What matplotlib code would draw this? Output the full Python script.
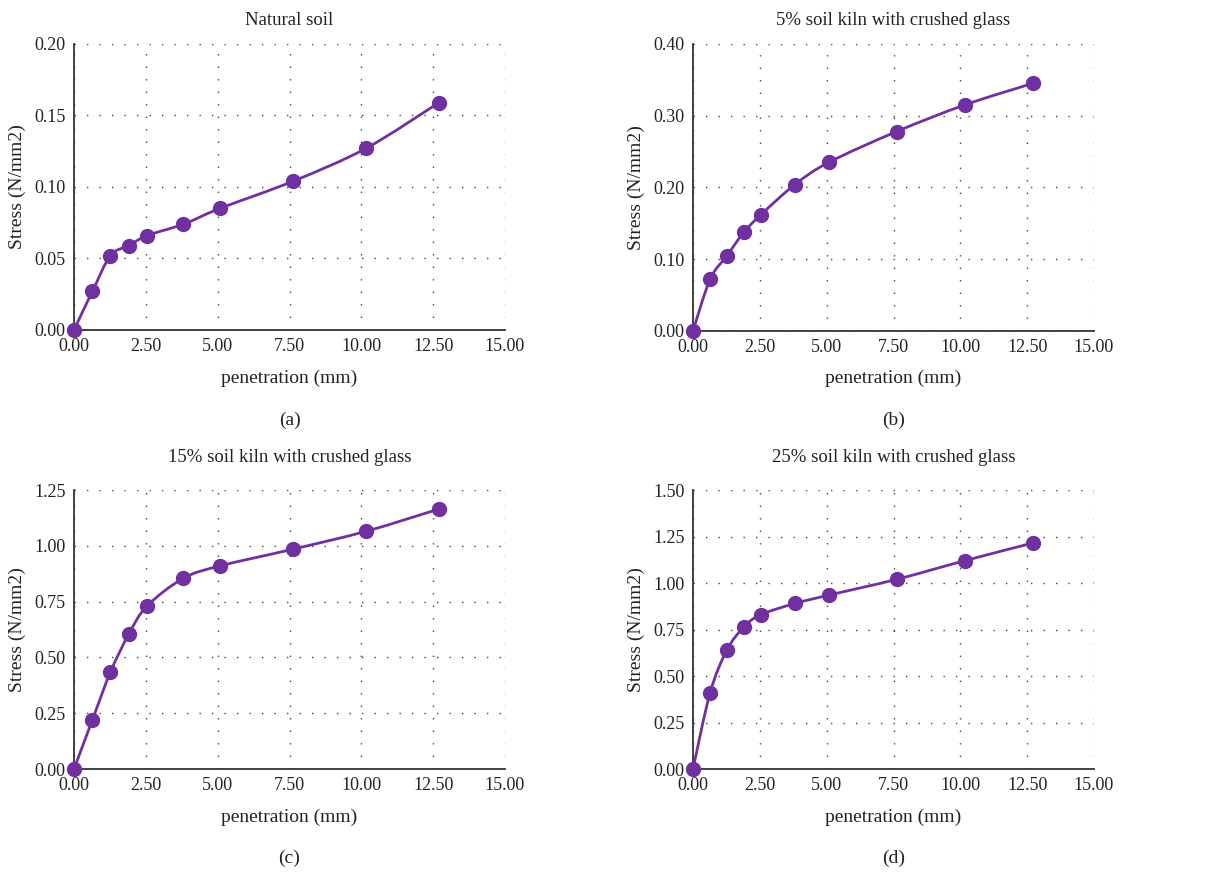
import matplotlib
matplotlib.use("Agg")
import matplotlib.pyplot as plt
from matplotlib.path import Path
from matplotlib.patches import PathPatch
from matplotlib.ticker import FormatStrFormatter

plt.rcParams['font.family'] = ['Liberation Serif', 'DejaVu Serif']

# penetration (mm)
penetration = [0, 0.64, 1.27, 1.91, 2.54, 3.81, 5.08, 7.62, 10.16, 12.70]

# stress (N/mm2)
natural_soil = [0, 0.027, 0.052, 0.059, 0.066, 0.074, 0.085, 0.104, 0.127, 0.159]
glass_5 = [0, 0.072, 0.105, 0.138, 0.162, 0.204, 0.235, 0.278, 0.315, 0.345]
glass_15 = [0, 0.22, 0.435, 0.605, 0.73, 0.855, 0.91, 0.985, 1.065, 1.165]
glass_25 = [0, 0.41, 0.64, 0.765, 0.83, 0.89, 0.935, 1.02, 1.12, 1.215]

titles = ["Natural soil", "5% soil kiln with crushed glass",
          "15% soil kiln with crushed glass", "25% soil kiln with crushed glass"]
letters = ["(a)", "(b)", "(c)", "(d)"]
series = [natural_soil, glass_5, glass_15, glass_25]
ymax = [0.20, 0.40, 1.25, 1.50]
ystep = [0.05, 0.10, 0.25, 0.25]

purple = "#7030a0"
axcolor = "#333333"
txt = "#222222"


def smooth_path(xs, ys):
    # Excel-like smoothed line: bezier segments through every point
    verts = [(xs[0], ys[0])]
    codes = [Path.MOVETO]
    n = len(xs)
    for i in range(n - 1):
        x0, y0 = xs[max(i - 1, 0)], ys[max(i - 1, 0)]
        x1, y1 = xs[i], ys[i]
        x2, y2 = xs[i + 1], ys[i + 1]
        x3, y3 = xs[min(i + 2, n - 1)], ys[min(i + 2, n - 1)]
        c1 = (x1 + (x2 - x0) / 6, y1 + (y2 - y0) / 6)
        c2 = (x2 - (x3 - x1) / 6, y2 - (y3 - y1) / 6)
        verts += [c1, c2, (x2, y2)]
        codes += [Path.CURVE4] * 3
    return Path(verts, codes)


fig = plt.figure(figsize=(12.05, 8.76), dpi=100)
positions = [
    [0.0614, 0.6233, 0.3577, 0.3265],
    [0.5751, 0.6222, 0.3328, 0.3276],
    [0.0614, 0.1221, 0.3577, 0.3185],
    [0.5751, 0.1221, 0.3328, 0.3185],
]
caption_y = [0.5205, 0.5205, 0.0205, 0.0205]
title_pad = [14, 14, 20.5, 20.5]

for k in range(4):
    ax = fig.add_axes(positions[k])
    ys = series[k]
    patch = PathPatch(smooth_path(penetration, ys), facecolor="none",
                      edgecolor=purple, linewidth=2, zorder=3)
    ax.add_patch(patch)
    ax.plot(penetration, ys, linestyle="none", marker="o", markersize=10,
            color=purple, zorder=4, clip_on=False)

    ax.set_xlim(0, 15)
    ax.set_ylim(0, ymax[k])
    ax.set_xticks([0, 2.5, 5, 7.5, 10, 12.5, 15])
    nt = int(round(ymax[k] / ystep[k]))
    ax.set_yticks([ystep[k] * i for i in range(nt + 1)])
    ax.xaxis.set_major_formatter(FormatStrFormatter("%.2f"))
    ax.yaxis.set_major_formatter(FormatStrFormatter("%.2f"))
    ax.tick_params(length=0, labelsize=13, colors=txt, pad=6)

    ax.grid(True, color="#444444", linestyle=(0, (1, 8)), linewidth=1)
    ax.set_axisbelow(True)
    for s in ["top", "right"]:
        ax.spines[s].set_visible(False)
    for s in ["left", "bottom"]:
        ax.spines[s].set_color(axcolor)
        ax.spines[s].set_linewidth(1.3)

    ax.set_title(titles[k], fontsize=13.5, pad=title_pad[k], color=txt)
    ax.set_xlabel("penetration (mm)", fontsize=14, labelpad=10, color=txt)
    ax.set_ylabel("Stress (N/mm2)", fontsize=14, labelpad=6, color=txt)

    cx = positions[k][0] + positions[k][2] / 2
    fig.text(cx, caption_y[k], letters[k], ha="center", va="center",
             fontsize=14, color=txt)

fig.savefig("out.png", dpi=100)
